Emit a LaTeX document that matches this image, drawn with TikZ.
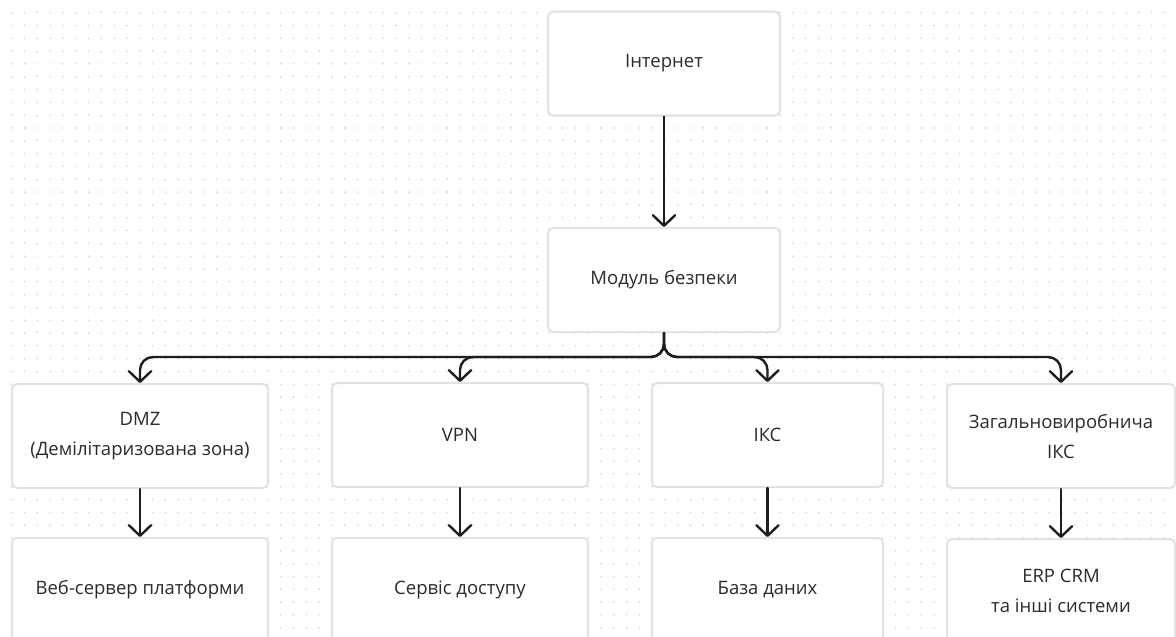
\documentclass[tikz,border=0pt]{standalone}
\usepackage{fontspec}
\setmainfont{Open Sans}
\usetikzlibrary{arrows.meta}
\definecolor{ink}{HTML}{1E1E1E}
\definecolor{txt}{HTML}{2B2B2B}
\definecolor{edge}{HTML}{E2E2E2}
\definecolor{dotc}{HTML}{CCCCCC}
\begin{document}
\begin{tikzpicture}[x=1pt,y=-1pt,
  card/.style={draw=edge, line width=2pt, fill=white, rounded corners=5pt,
    minimum height=104pt, text=txt, font=\fontsize{18.5}{30}\selectfont,
    align=center, inner sep=0pt},
  conn/.style={draw=ink, line width=2.4pt, line cap=round,
    -{Straight Barb[length=10.5pt,width=22pt,line width=2.4pt,round]},
    rounded corners=13pt}
]
\useasboundingbox (0,0) rectangle (1176,637);
\clip (0,0) rectangle (1176,637);
\fill[white] (0,0) rectangle (1176,637);
% dotted canvas grid
\foreach \i in {0,...,91}{\foreach \j in {0,...,49}{%
  \fill[dotc] (11.7+12.81*\i,12.7+12.81*\j) circle (0.8pt);}}

% top chain
\node[card, minimum width=232pt] (inet) at (664,63.5) {Інтернет};
\node[card, minimum width=232pt] (mod)  at (664,280) {Модуль безпеки};

% middle row
\node[card, minimum width=256pt] (dmz) at (140,436) {DMZ\\(Демілітаризована зона)};
\node[card, minimum width=256pt] (vpn) at (460,435) {VPN};
\node[card, minimum width=231pt] (ikc) at (767.5,435) {ІКС};
\node[card, minimum width=228pt] (zag) at (1061,436) {Загальновиробнича\\ІКС};

% bottom row
\node[card, minimum width=256pt] (web) at (140,590) {Веб-сервер платформи};
\node[card, minimum width=256pt] (acc) at (460,590) {Сервіс доступу};
\node[card, minimum width=231pt] (db)  at (767.5,590) {База даних};
\node[card, minimum width=228pt] (erp) at (1061,591) {ERP CRM\\та інші системи};

% connectors
\coordinate (bus) at (664,357);
\draw[conn] (inet.south) -- (mod.north);
\draw[conn] (mod.south) -- (bus) -| (dmz.north);
\draw[conn] (mod.south) -- (bus) -| (vpn.north);
\draw[conn] (mod.south) -- (bus) -| (ikc.north);
\draw[conn] (mod.south) -- (bus) -| (zag.north);
\draw[conn] (dmz.south) -- (web.north);
\draw[conn] (vpn.south) -- (acc.north);
\draw[conn] (ikc.south) -- (db.north);
\draw[conn] (zag.south) -- (erp.north);
\end{tikzpicture}
\end{document}
